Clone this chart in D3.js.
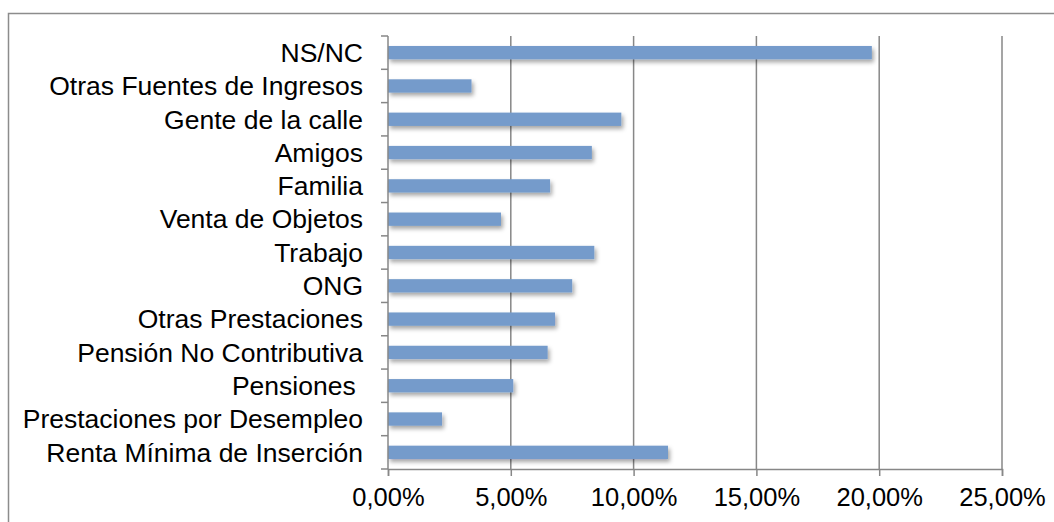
<!DOCTYPE html>
<html>
<head>
<meta charset="utf-8">
<script src="https://cdn.jsdelivr.net/npm/d3@7"></script>
<style>
  body { margin: 0; background: #fff; }
  text { font-family: "Liberation Sans", Arial, sans-serif; fill: #000; }
</style>
</head>
<body>
<div id="chart"></div>
<script>
var categories = ["NS/NC", "Otras Fuentes de Ingresos", "Gente de la calle", "Amigos", "Familia",
  "Venta de Objetos", "Trabajo", "ONG", "Otras Prestaciones", "Pensión No Contributiva",
  "Pensiones ", "Prestaciones por Desempleo", "Renta Mínima de Inserción"];
var values = [0.197, 0.034, 0.095, 0.083, 0.066, 0.046, 0.084, 0.075, 0.068, 0.065, 0.051, 0.022, 0.114];
var xTicks = [0, 0.05, 0.10, 0.15, 0.20, 0.25];

var width = 1054, height = 522;
var margin = {top: 36, right: 52, bottom: 53, left: 388};

var svg = d3.select("#chart").append("svg")
  .attr("width", width)
  .attr("height", height);

var defs = svg.append("defs");
var f = defs.append("filter").attr("id", "shadow")
  .attr("x", "-5%").attr("y", "-50%").attr("width", "115%").attr("height", "250%");
f.append("feDropShadow").attr("dx", 2).attr("dy", 3).attr("stdDeviation", 2)
  .attr("flood-color", "#000").attr("flood-opacity", 0.35);

// outer chart border (cropped on right and bottom)
svg.append("rect")
  .attr("x", 8.5).attr("y", 13.5)
  .attr("width", 1200).attr("height", 700)
  .attr("fill", "none").attr("stroke", "#8c8c8c").attr("stroke-width", 1.5);

var x = d3.scaleLinear().domain([0, 0.25]).range([margin.left, width - margin.right]);
var y = d3.scaleBand().domain(categories).range([margin.top, height - margin.bottom]);

var locale = d3.formatLocale({decimal: ",", thousands: ".", grouping: [3], currency: ["", "€"]});
var fmt = locale.format(".2%");

// gridlines
svg.append("g").selectAll("line")
  .data(xTicks.slice(1))
  .enter().append("line")
    .attr("x1", function(d) { return x(d); })
    .attr("x2", function(d) { return x(d); })
    .attr("y1", margin.top)
    .attr("y2", height - margin.bottom)
    .attr("stroke", "#878787")
    .attr("stroke-width", 1.5);

// bars
var barH = y.bandwidth() * 0.4;
svg.append("g").selectAll("rect")
  .data(values)
  .enter().append("rect")
    .attr("x", x(0))
    .attr("y", function(d, i) { return y(categories[i]) + (y.bandwidth() - barH) / 2; })
    .attr("width", function(d) { return x(d) - x(0); })
    .attr("height", barH)
    .attr("fill", "#749bcb")
    .attr("filter", "url(#shadow)");

// x axis
var xAxis = svg.append("g")
  .attr("transform", "translate(0," + (height - margin.bottom) + ")")
  .call(d3.axisBottom(x).tickValues(xTicks).tickFormat(fmt).tickSize(7).tickPadding(12));
xAxis.select(".domain").attr("stroke", "#878787").attr("stroke-width", 1.5);
xAxis.selectAll(".tick line").attr("stroke", "#878787").attr("stroke-width", 1.5);
xAxis.selectAll("text").style("font-size", "25.5px").style("font-family", "'Liberation Sans', Arial, sans-serif");

// y axis: ticks between categories
var yAxisG = svg.append("g");
yAxisG.append("line")
  .attr("x1", x(0)).attr("x2", x(0))
  .attr("y1", margin.top).attr("y2", height - margin.bottom)
  .attr("stroke", "#878787").attr("stroke-width", 1.5);
var bounds = categories.map(function(c) { return y(c); });
bounds.push(height - margin.bottom);
yAxisG.selectAll("line.tk")
  .data(bounds)
  .enter().append("line")
    .attr("class", "tk")
    .attr("x1", x(0) - 7).attr("x2", x(0))
    .attr("y1", function(d) { return d; })
    .attr("y2", function(d) { return d; })
    .attr("stroke", "#878787").attr("stroke-width", 1.5);

yAxisG.selectAll("text")
  .data(categories)
  .enter().append("text")
    .attr("x", 363)
    .attr("y", function(d) { return y(d) + y.bandwidth() / 2; })
    .attr("dy", "0.35em")
    .attr("text-anchor", "end")
    .style("font-size", "26.5px")
    .style("white-space", "pre")
    .text(function(d) { return d; });
</script>
</body>
</html>
